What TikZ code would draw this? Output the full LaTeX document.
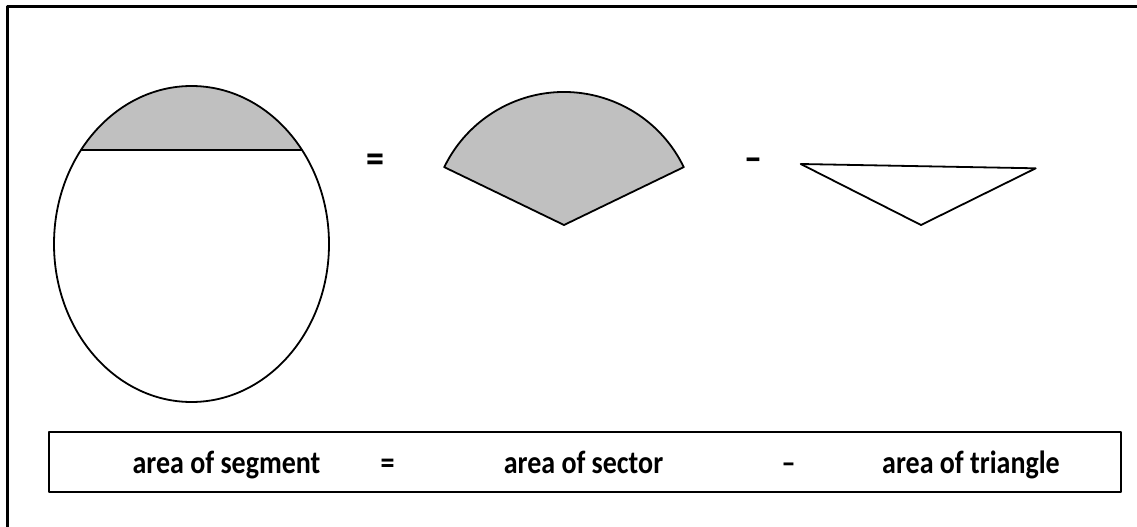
\documentclass[tikz,border=0pt]{standalone}
\usepackage{fontspec}
\setmainfont{Carlito}
\usepackage{tikz}
\definecolor{segGray}{RGB}{192,192,192}
\newcommand{\tallText}[1]{\scalebox{1}[1.15]{#1}}

\begin{document}
\begin{tikzpicture}[x=1pt, y=1pt, line join=round,
    lbl/.style={font=\fontsize{28}{33}\selectfont\bfseries, anchor=base, inner sep=0pt},
    sym/.style={font=\fontsize{36}{42}\selectfont\bfseries, anchor=base, inner sep=0pt}]
    % Parameters
    \def\cx{191.5}
    \def\cy{-244}
    \def\rx{137.5}
    \def\ry{158}
    \def\chordY{-150}
    \def\Rs{133}
    \def\base{-473}
    \def\lw{1.8pt}

    % Page and outer frame (cut off at right and bottom)
    \useasboundingbox (0,0) rectangle (1137,-527);
    \clip (0,0) rectangle (1137,-527);
    \draw[line width=3pt] (7.5,-540) -- (7.5,-6.5) -- (1150,-6.5);

    % Segment: shaded cap above the chord
    \begin{scope}
        \clip (\cx,\cy) ellipse [x radius=\rx pt, y radius=\ry pt];
        \fill[segGray] (0,\chordY) rectangle (400,0);
        \draw[line width=\lw] (0,\chordY) -- (400,\chordY);
    \end{scope}
    \draw[line width=\lw] (\cx,\cy) ellipse [x radius=\rx pt, y radius=\ry pt];

    % Sector
    \coordinate (O) at (564,-225);
    \filldraw[line width=\lw, fill=segGray] (O) -- ++(25.8:\Rs pt) arc (25.8:154.2:\Rs pt) -- cycle;

    % Triangle
    \coordinate (A) at (800.7,-164);
    \coordinate (B) at (1035.7,-168.3);
    \coordinate (C) at (921,-225);
    \draw[line width=\lw] (A) -- (B) -- (C) -- cycle;

    % Signs between the shapes
    \node[sym] (eqsym) at (375,-172) {\tallText{=}};
    \node[sym] (minsym) at (753,-171) {\tallText{–}};

    % Caption box
    \draw[line width=1.5pt] (49,-432) rectangle (1121,-492);
    \node[lbl] (segtxt) at (226.5,\base) {\tallText{area of segment}};
    \node[lbl] (eqtxt) at (387.5,\base) {\tallText{=}};
    \node[lbl] (sectxt) at (583.5,\base) {\tallText{area of sector}};
    \node[lbl] (mintxt) at (788.5,\base) {\tallText{–}};
    \node[lbl] (tritxt) at (971,\base) {\tallText{area of triangle}};
\end{tikzpicture}
\end{document}
